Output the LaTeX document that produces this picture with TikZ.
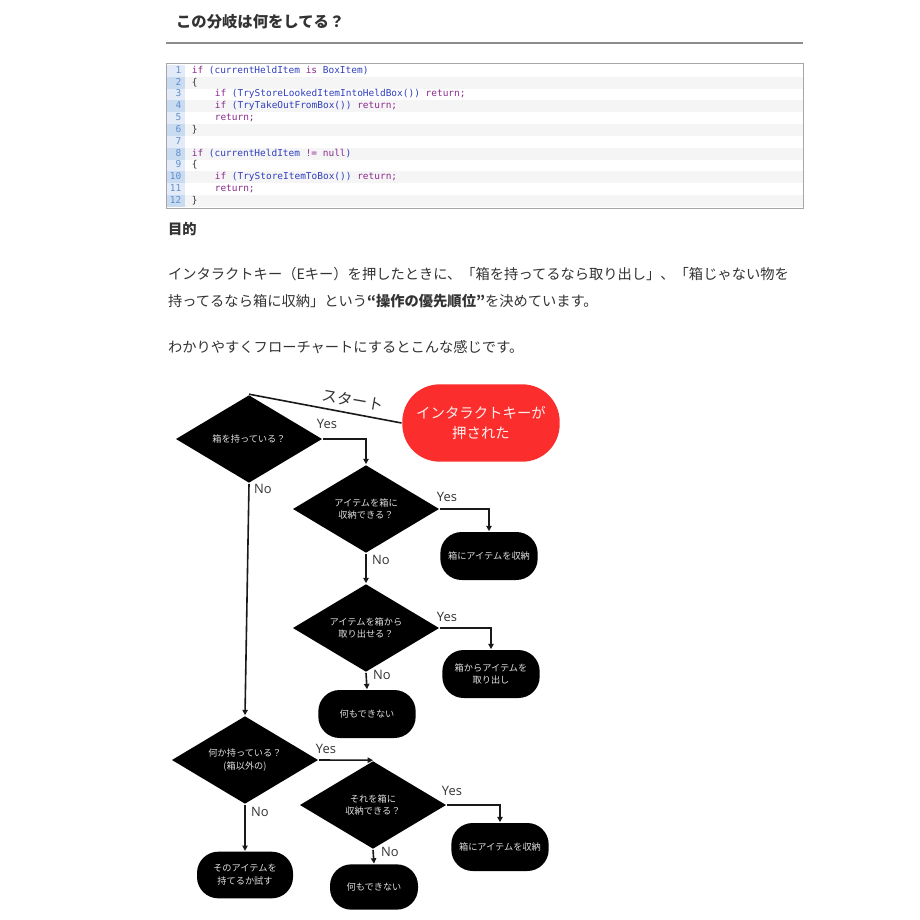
\documentclass[tikz,border=0pt]{standalone}
\usepackage{fontspec}
\setmainfont{Noto Sans CJK JP}
\newfontfamily\codefont{DejaVu Sans Mono}
\newfontfamily\yesnofont{Open Sans}
\usetikzlibrary{shapes.geometric,arrows.meta}
\definecolor{bodytext}{HTML}{333333}
\definecolor{kwcol}{HTML}{8B2B8E}
\definecolor{idcol}{HTML}{2F3FBF}
\definecolor{gutterodd}{HTML}{E2EBF7}
\definecolor{guttereven}{HTML}{C9DBF0}
\definecolor{numcol}{HTML}{5F8FCF}
\definecolor{roweven}{HTML}{F5F5F5}
\definecolor{startred}{HTML}{FB2D2D}
\newcommand\kwd[1]{\textcolor{kwcol}{#1}}
\newcommand\idn[1]{\textcolor{idcol}{#1}}
\begin{document}
\begin{tikzpicture}[x=0.75pt,y=-0.75pt,line width=1.2pt,
  every node/.style={inner sep=1pt,text=bodytext},
  para/.style={anchor=base west,font=\fontsize{10.7}{13}\selectfont},
  code/.style={anchor=base west,inner sep=0pt,font=\codefont\fontsize{7.1}{9}\selectfont},
  ask/.style={diamond,aspect=1.67,fill=black,minimum width=110pt,minimum height=66pt,inner sep=0pt,
    text=white!88!black,align=center,font=\fontsize{6.9}{9.5}\selectfont},
  act/.style={rectangle,rounded corners=16pt,fill=black,minimum width=73pt,minimum height=36pt,inner sep=0pt,
    text=white!88!black,align=center,font=\fontsize{6.9}{9.5}\selectfont},
  ans/.style={font=\yesnofont\fontsize{9.7}{11}\selectfont},
  flow/.style={draw=black!90,-{Triangle[length=4pt,width=4pt]}}]
\fill[white] (0,0) rectangle (920,920);
\useasboundingbox (0,0) rectangle (920,920);
% heading
\node[anchor=base west,font=\bfseries\fontsize{11.5}{14}\selectfont] (title) at (174,28) {この分岐は何をしてる？};
\draw[line width=1.5pt,draw=black!45] (166,43) -- (803,43);
% code listing
\foreach \i in {2,4,...,12}
  \fill[roweven] (185,{53.17+\i*11.83}) rectangle (803,{65+\i*11.83});
\foreach \i in {1,3,...,11}
  \fill[gutterodd] (166,{53.17+\i*11.83}) rectangle (185,{65+\i*11.83});
\foreach \i in {2,4,...,12}
  \fill[guttereven] (166,{53.17+\i*11.83}) rectangle (185,{65+\i*11.83});
\foreach \i in {1,...,12}
  \node[code,anchor=base east,text=numcol] at (182,{61.5+\i*11.83}) {\i};
\draw[line width=0.75pt,draw=black!35] (166,64) rectangle (803,208);
\node[code] (c1) at (191,73.33) {\kwd{if} \idn{(currentHeldItem} \kwd{is} \idn{BoxItem)}};
\node[code] (c2) at (191,85.16) {\{};
\node[code] (c3) at (214,96.99) {\kwd{if} \idn{(TryStoreLookedItemIntoHeldBox())} \kwd{return;}};
\node[code] (c4) at (214,108.82) {\kwd{if} \idn{(TryTakeOutFromBox())} \kwd{return;}};
\node[code] (c5) at (214,120.65) {\kwd{return;}};
\node[code] (c6) at (191,132.48) {\}};
\node[code] (c8) at (191,156.14) {\kwd{if} \idn{(currentHeldItem} \kwd{!=} \kwd{null}\idn{)}};
\node[code] (c9) at (191,167.97) {\{};
\node[code] (c10) at (214,179.8) {\kwd{if} \idn{(TryStoreItemToBox())} \kwd{return;}};
\node[code] (c11) at (214,191.63) {\kwd{return;}};
\node[code] (c12) at (191,203.46) {\}};
% text
\node[para,font=\bfseries\fontsize{10.7}{13}\selectfont] (goal) at (166,234.5) {目的};
\node[para] (p1) at (166,279.5) {インタラクトキー（Eキー）を押したときに、「箱を持ってるなら取り出し」、「箱じゃない物を};
\node[para] (p2) at (166,306.5) {持ってるなら箱に収納」という\textbf{“操作の優先順位”}を決めています。};
\node[para] (p3) at (166,352.5) {わかりやすくフローチャートにするとこんな感じです。};
% flowchart
\node[rectangle,rounded corners=28pt,fill=startred,minimum width=118pt,minimum height=58pt,
  text=white!94!red,align=center,font=\fontsize{10.8}{15}\selectfont] (start) at (481,423) {インタラクトキーが\\押された};
\node[ask] (q1) at (249,439) {箱を持っている？};
\node[ask] (q2) at (366,509) {アイテムを箱に\\収納できる？};
\node[act] (a1) at (489,556) {箱にアイテムを収納};
\node[ask] (q3) at (366,628) {アイテムを箱から\\取り出せる？};
\node[act] (a2) at (491,674) {箱からアイテムを\\取り出し};
\node[act] (a3) at (367,714) {何もできない};
\node[ask] (q4) at (245,760) {何か持っている？\\(箱以外の)};
\node[ask] (q5) at (373,805) {それを箱に\\収納できる？};
\node[act] (a4) at (500,847) {箱にアイテムを収納};
\node[act,minimum width=66pt,minimum height=34pt] (a5) at (374,887) {何もできない};
\node[act,minimum width=72pt,minimum height=35pt] (a6) at (245,875) {そのアイテムを\\持てるか試す};
\draw[draw=black!90] (start.west) -- (q1.north);
\node[rotate=-10,font=\fontsize{11.5}{13}\selectfont] at (353,400) {スタート};
\draw[flow] (q1.east) -| (q2.north);
\draw[flow] (q1.south) -- (q4.north);
\draw[flow] (q2.east) -| (a1.north);
\draw[flow] (q2.south) -- (q3.north);
\draw[flow] (q3.east) -| (a2.north);
\draw[flow] (q3.south) -- (a3.north);
\draw[flow] (q4.east) -- (q5.north);
\draw[flow] (q4.south) -- (a6.north);
\draw[flow] (q5.east) -| (a4.north);
\draw[flow] (q5.south) -- (a5.north);
\node[ans] at (327,424) {Yes};
\node[ans] at (263,489) {No};
\node[ans] at (447,497) {Yes};
\node[ans] at (381,560) {No};
\node[ans] at (447,617) {Yes};
\node[ans] at (382,675) {No};
\node[ans] at (326,749) {Yes};
\node[ans] at (260,812) {No};
\node[ans] at (452,791) {Yes};
\node[ans] at (390,852) {No};
\end{tikzpicture}
\end{document}
